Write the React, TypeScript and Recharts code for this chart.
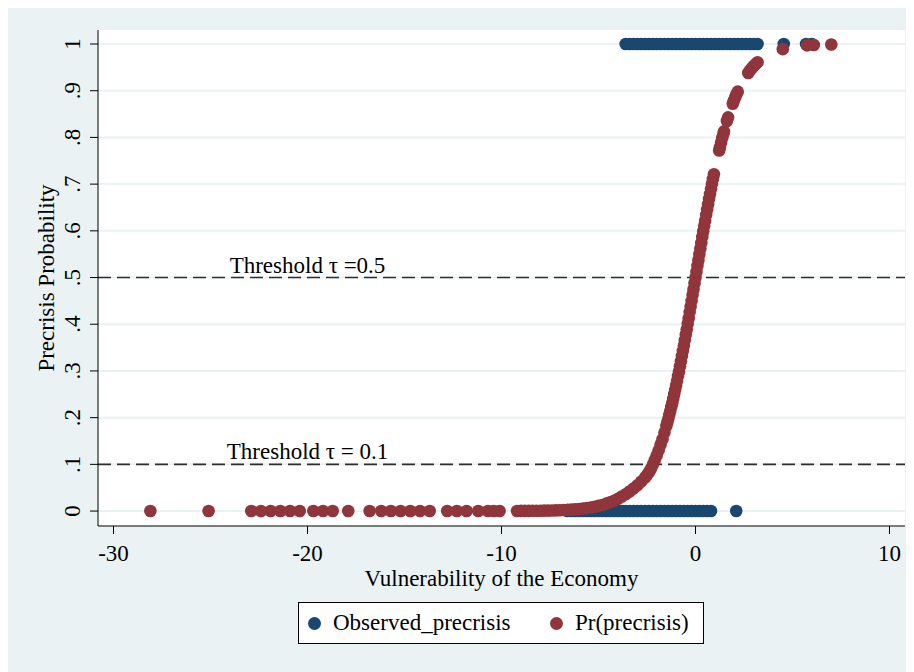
import {
  ScatterChart,
  Scatter,
  XAxis,
  YAxis,
  CartesianGrid,
  ReferenceLine,
  ReferenceDot,
  Label,
} from 'recharts'

const xTicks = [-30, -20, -10, 0, 10]
const yTicks = [0, 0.1, 0.2, 0.3, 0.4, 0.5, 0.6, 0.7, 0.8, 0.9, 1]
const yTickLabels = ['0', '.1', '.2', '.3', '.4', '.5', '.6', '.7', '.8', '.9', '1']

const thresholds = [
  { y: 0.5, x: -20, text: 'Threshold τ =0.5' },
  { y: 0.1, x: -20, text: 'Threshold τ = 0.1' },
]

// observed outcome, x positions of the crisis (1) and non-crisis (0) obs
const observedOnes = [
  -3.6, -3.4, -3.2, -3.0, -2.8, -2.6, -2.4, -2.2, -2.0, -1.8, -1.6, -1.4, -1.2, -1.0,
  -0.8, -0.6, -0.4, -0.2, 0.0, 0.2, 0.4, 0.6, 0.8, 1.0, 1.2, 1.4, 1.6, 1.8, 2.0, 2.2,
  2.4, 2.6, 2.8, 3.0, 3.2, 4.55, 5.7, 6.0,
]
const observedZeros = [
  -6.6, -6.4, -6.2, -6.0, -5.8, -5.6, -5.4, -5.2, -5.0, -4.8, -4.6, -4.4, -4.2, -4.0,
  -3.8, -3.6, -3.4, -3.2, -3.0, -2.8, -2.6, -2.4, -2.2, -2.0, -1.8, -1.6, -1.4, -1.2,
  -1.0, -0.8, -0.6, -0.4, -0.2, 0.0, 0.2, 0.4, 0.6, 0.8, 2.1,
]

// predicted probability [vulnerability, Pr]
const predicted: [number, number][] = [
  [-28.1, 0], [-25.1, 0], [-22.9, 0], [-22.4, 0], [-21.9, 0], [-21.4, 0], [-20.9, 0],
  [-20.4, 0], [-19.7, 0], [-19.2, 0], [-18.7, 0], [-17.9, 0],
  [-16.8, 0], [-16.2, 0], [-15.7, 0], [-15.2, 0], [-14.7, 0], [-14.2, 0], [-13.7, 0],
  [-12.8, 0], [-12.3, 0], [-11.8, 0], [-11.2, 0], [-10.7, 0], [-10.4, 0], [-10.1, 0],
  [-9.2, 0.0002], [-9.0, 0.0003], [-8.8, 0.0003], [-8.6, 0.0004], [-8.4, 0.0005],
  [-8.2, 0.0006], [-8.0, 0.0007], [-7.8, 0.0009], [-7.6, 0.001], [-7.4, 0.0012],
  [-7.2, 0.0015], [-7.0, 0.0018], [-6.8, 0.0022], [-6.6, 0.0026], [-6.4, 0.0031],
  [-6.2, 0.0037], [-6.0, 0.0045], [-5.8, 0.0054], [-5.6, 0.0064], [-5.4, 0.0077],
  [-5.2, 0.0092], [-5.0, 0.011], [-4.8, 0.013], [-4.6, 0.016], [-4.4, 0.019],
  [-4.2, 0.022], [-4.0, 0.026], [-3.8, 0.031], [-3.6, 0.036], [-3.4, 0.042],
  [-3.2, 0.048], [-3.0, 0.055], [-2.8, 0.063], [-2.6, 0.072],
  [-2.5, 0.077], [-2.4, 0.083], [-2.3, 0.09], [-2.2, 0.099], [-2.1, 0.109], [-2.0, 0.119],
  [-1.9, 0.13], [-1.8, 0.142], [-1.7, 0.154], [-1.6, 0.168], [-1.5, 0.182],
  [-1.45, 0.19], [-1.4, 0.198], [-1.35, 0.206], [-1.3, 0.214], [-1.25, 0.223],
  [-1.2, 0.231], [-1.15, 0.24], [-1.1, 0.25], [-1.05, 0.259], [-1.0, 0.269],
  [-0.95, 0.279], [-0.9, 0.289], [-0.85, 0.299], [-0.8, 0.31], [-0.75, 0.321],
  [-0.7, 0.332], [-0.65, 0.343], [-0.6, 0.354], [-0.55, 0.366], [-0.5, 0.378],
  [-0.45, 0.389], [-0.4, 0.401], [-0.35, 0.413], [-0.3, 0.426], [-0.25, 0.438],
  [-0.2, 0.45], [-0.15, 0.463], [-0.1, 0.475], [-0.05, 0.488], [0.0, 0.5],
  [0.05, 0.512], [0.1, 0.525], [0.15, 0.537], [0.2, 0.55], [0.25, 0.562],
  [0.3, 0.574], [0.35, 0.587], [0.4, 0.599], [0.45, 0.611], [0.5, 0.622],
  [0.55, 0.634], [0.6, 0.646], [0.65, 0.657], [0.7, 0.668], [0.75, 0.679],
  [0.8, 0.69], [0.85, 0.701], [0.9, 0.711], [0.95, 0.721],
  [1.22, 0.772], [1.26, 0.779], [1.32, 0.789], [1.38, 0.799], [1.44, 0.808],
  [1.47, 0.813], [1.62, 0.835], [1.68, 0.843], [1.92, 0.872], [1.98, 0.879],
  [2.05, 0.886], [2.12, 0.893], [2.18, 0.898], [2.72, 0.938], [2.8, 0.943],
  [2.9, 0.948], [3.0, 0.953], [3.1, 0.957], [3.2, 0.961], [4.5, 0.989],
  [5.75, 0.997], [6.1, 0.998], [7.0, 0.999],
]

const NAVY = '#1a476f'
const MAROON = '#90353b'
const BG = '#eaf2f3'
const FONT = '"Liberation Serif", "Times New Roman", serif'
const FS = 23

const observedData = [
  ...observedZeros.map((x) => ({ x, y: 0 })),
  ...observedOnes.map((x) => ({ x, y: 1 })),
]
const predictedData = predicted.map(([x, y]) => ({ x, y }))

const dot = (color: string) => (props: any) => (
  <circle cx={props.cx} cy={props.cy} r={6.3} fill={color} />
)

const YTick = (props: any) => {
  const { x, y, payload } = props
  const i = yTicks.indexOf(payload.value)
  const label = i >= 0 ? yTickLabels[i] : String(payload.value)
  const tx = x - 8
  return (
    <text
      x={tx}
      y={y}
      transform={`rotate(-90 ${tx} ${y})`}
      textAnchor="middle"
      fontSize={FS}
      fontFamily={FONT}
      fill="#000"
    >
      {label}
    </text>
  )
}

export default function App() {
  return (
    <div
      style={{
        position: 'relative',
        width: 906,
        height: 666,
        marginTop: -2,
        background: BG,
        fontFamily: FONT,
      }}
    >
      <ScatterChart
        width={906}
        height={666}
        margin={{ top: 24, right: 9, left: 0, bottom: 86 }}
      >
        <CartesianGrid
          vertical={false}
          horizontalValues={yTicks}
          stroke={BG}
          strokeWidth={2}
          fill="#fff"
          fillOpacity={1}
        />
        <XAxis
          type="number"
          dataKey="x"
          domain={[-30.8, 10.8]}
          ticks={xTicks}
          allowDataOverflow
          height={60}
          stroke="#000"
          tickSize={8}
          tickMargin={11}
          tick={{ fill: '#000', fontSize: FS, fontFamily: FONT }}
        >
          <Label
            content={() => (
              <text x={493.5} y={580} textAnchor="middle" fontSize={FS} fontFamily={FONT} fill="#000">
                Vulnerability of the Economy
              </text>
            )}
          />
        </XAxis>
        <YAxis
          type="number"
          dataKey="y"
          domain={[-0.032, 1.03]}
          ticks={yTicks}
          allowDataOverflow
          width={90}
          stroke="#000"
          tickSize={8}
          tick={<YTick />}
        >
          <Label
            content={() => (
              <text
                x={46}
                y={272}
                transform="rotate(-90 46 272)"
                textAnchor="middle"
                fontSize={FS}
                fontFamily={FONT}
                fill="#000"
              >
                Precrisis Probability
              </text>
            )}
          />
        </YAxis>
        {thresholds.map((t) => (
          <ReferenceLine
            key={t.y}
            y={t.y}
            stroke="#2e2e2e"
            strokeWidth={1.6}
            strokeDasharray="13 6"
          />
        ))}
        {thresholds.map((t) => (
          <ReferenceDot
            key={'lbl' + t.y}
            x={t.x}
            y={t.y}
            r={0}
            fill="none"
            stroke="none"
            label={{
              value: t.text,
              position: 'top',
              offset: 5,
              fill: '#000',
              fontSize: FS,
              fontFamily: FONT,
            }}
          />
        ))}
        <Scatter
          name="Observed_precrisis"
          data={observedData}
          shape={dot(NAVY)}
          isAnimationActive={false}
        />
        <Scatter
          name="Pr(precrisis)"
          data={predictedData}
          shape={dot(MAROON)}
          isAnimationActive={false}
        />
      </ScatterChart>
      <div
        style={{
          position: 'absolute',
          left: 290,
          top: 596,
          width: 404,
          height: 40,
          background: '#fff',
          border: '1px solid #000',
          fontSize: FS,
          lineHeight: '40px',
          color: '#000',
        }}
      >
        <span
          style={{
            position: 'absolute',
            left: 9,
            top: 14,
            width: 13,
            height: 13,
            borderRadius: '50%',
            background: NAVY,
          }}
        />
        <span style={{ position: 'absolute', left: 34, top: 0 }}>Observed_precrisis</span>
        <span
          style={{
            position: 'absolute',
            left: 251,
            top: 14,
            width: 13,
            height: 13,
            borderRadius: '50%',
            background: MAROON,
          }}
        />
        <span style={{ position: 'absolute', left: 276, top: 0 }}>Pr(precrisis)</span>
      </div>
    </div>
  )
}
